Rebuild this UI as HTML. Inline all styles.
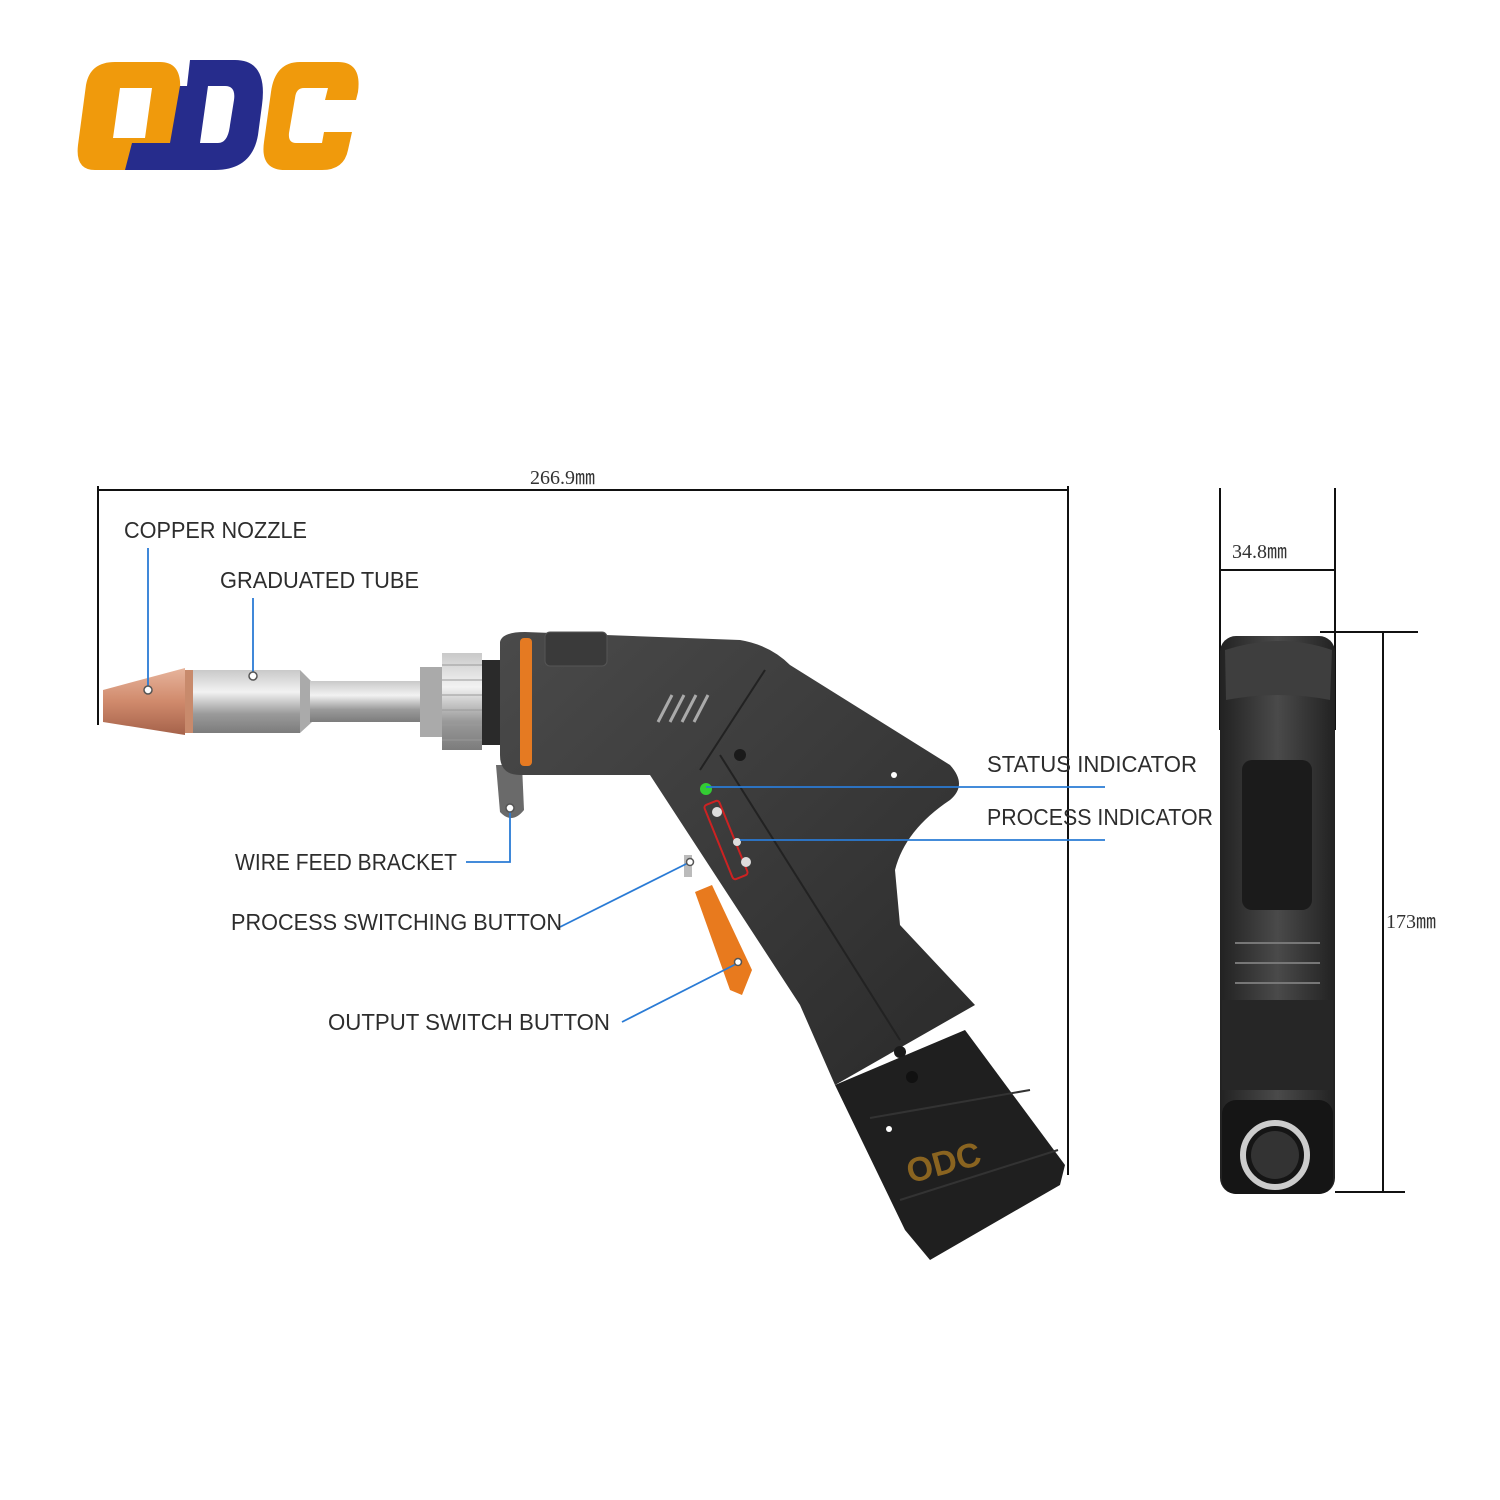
<!DOCTYPE html>
<html><head><meta charset="utf-8"><style>
html,body{margin:0;padding:0;background:#fff}
svg{display:block}
text{font-family:"Liberation Sans",sans-serif}
</style></head><body>
<svg width="1500" height="1500" viewBox="0 0 1500 1500" xmlns="http://www.w3.org/2000/svg">
<defs>
<linearGradient id="cu" x1="0" y1="0" x2="0" y2="1"><stop offset="0" stop-color="#e7b49c"/><stop offset=".5" stop-color="#d08a6c"/><stop offset="1" stop-color="#a5624a"/></linearGradient>
<linearGradient id="si" x1="0" y1="0" x2="0" y2="1"><stop offset="0" stop-color="#c9c9c9"/><stop offset=".35" stop-color="#f2f2f2"/><stop offset=".7" stop-color="#9a9a9a"/><stop offset="1" stop-color="#7c7c7c"/></linearGradient>
<linearGradient id="bd" x1="0" y1="0" x2="1" y2="1"><stop offset="0" stop-color="#4a4a4a"/><stop offset="1" stop-color="#2a2a2a"/></linearGradient>
<linearGradient id="sd" x1="0" y1="0" x2="1" y2="0"><stop offset="0" stop-color="#222"/><stop offset=".5" stop-color="#4a4a4a"/><stop offset="1" stop-color="#222"/></linearGradient>
</defs>
<!-- logo -->
<path d="M95,62 H160 Q182,62 180,90 L172,140 Q168,162 150,162 H128 L128,170 H95 Q75,170 78,145 L86,85 Q90,62 115,62 Z M120,88 L113,138 H145 L152,88 Z" fill="#f09a0c" fill-rule="evenodd"/>
<path d="M190,60 H235 Q268,60 262,105 L258,135 Q252,170 215,170 H125 L132,143 H170 L180,86 H187 Z M208,86 L200,143 H218 Q228,143 230,125 L234,100 Q236,86 225,86 Z" fill="#262c8c" fill-rule="evenodd"/>
<path d="M300,62 H338 Q362,62 358,92 L356,100 H325 L328,88 H304 Q296,88 295,98 L289,133 Q288,143 296,143 H322 L324,132 H352 L348,150 Q344,170 322,170 H285 Q260,170 264,142 L271,92 Q275,62 300,62 Z" fill="#f09a0c"/>
<!-- dimension lines -->
<g stroke="#111" stroke-width="2" fill="none">
<line x1="98" y1="490" x2="1068" y2="490"/>
<line x1="98" y1="486" x2="98" y2="725"/>
<line x1="1068" y1="486" x2="1068" y2="1175"/>
<line x1="1220" y1="488" x2="1220" y2="730"/>
<line x1="1335" y1="488" x2="1335" y2="730"/>
<line x1="1220" y1="570" x2="1335" y2="570"/>
<line x1="1320" y1="632" x2="1418" y2="632"/>
<line x1="1335" y1="1192" x2="1405" y2="1192"/>
<line x1="1383" y1="632" x2="1383" y2="1192"/>
</g>
<g font-size="20" fill="#333">
<text x="530" y="484" style="font-family:'Liberation Serif',serif">266.9㎜</text>
<text x="1232" y="558" style="font-family:'Liberation Serif',serif">34.8㎜</text>
<text x="1386" y="928" style="font-family:'Liberation Serif',serif">173㎜</text>
</g>
<!-- side view -->
<rect x="1220" y="636" width="115" height="558" rx="16" fill="url(#sd)"/>
<path d="M1225,650 Q1280,632 1332,650 L1330,700 Q1280,690 1226,700 Z" fill="#3e3e3e"/>
<rect x="1242" y="760" width="70" height="150" rx="10" fill="#1b1b1b"/>
<g stroke="#777" stroke-width="2"><line x1="1235" y1="943" x2="1320" y2="943"/><line x1="1235" y1="963" x2="1320" y2="963"/><line x1="1235" y1="983" x2="1320" y2="983"/></g>
<rect x="1222" y="1000" width="111" height="90" fill="#262626"/>
<rect x="1222" y="1100" width="111" height="94" rx="14" fill="#151515"/>
<circle cx="1275" cy="1155" r="32" fill="none" stroke="#ccc" stroke-width="6"/>
<circle cx="1275" cy="1155" r="24" fill="#333"/>
<!-- nozzle -->
<path d="M103,690 L185,668 L185,735 L103,722 Z" fill="url(#cu)"/>
<rect x="185" y="670" width="115" height="63" fill="url(#si)"/>
<rect x="185" y="670" width="8" height="63" fill="#c88a6c"/>
<path d="M300,670 L312,682 L312,722 L300,733 Z" fill="#aaa"/>
<rect x="310" y="681" width="112" height="41" fill="url(#si)"/>
<rect x="420" y="667" width="24" height="70" fill="#aaa"/>
<rect x="442" y="653" width="40" height="97" fill="url(#si)"/>
<g stroke="#999" stroke-width="1"><line x1="442" y1="665" x2="482" y2="665"/><line x1="442" y1="680" x2="482" y2="680"/><line x1="442" y1="695" x2="482" y2="695"/><line x1="442" y1="710" x2="482" y2="710"/><line x1="442" y1="725" x2="482" y2="725"/><line x1="442" y1="740" x2="482" y2="740"/></g>
<rect x="482" y="660" width="20" height="85" fill="#2a2a2a"/>
<!-- wire bracket -->
<path d="M496,765 L522,765 L524,810 Q512,825 500,812 Z" fill="#6a6a6a"/>
<!-- body -->
<path d="M500,642 Q502,632 525,632 L740,640 Q770,645 790,665 L950,765 Q968,785 950,800 Q905,830 895,870 L900,925 L975,1005 L835,1085 L800,1005 L650,775 L520,775 Q500,775 500,755 Z" fill="url(#bd)"/>
<rect x="520" y="638" width="12" height="128" rx="4" fill="#e57a22"/>
<rect x="545" y="632" width="62" height="34" rx="5" fill="#3a3a3a" stroke="#555"/>
<g stroke="#aaa" stroke-width="3"><line x1="658" y1="722" x2="672" y2="695"/><line x1="670" y1="722" x2="684" y2="695"/><line x1="682" y1="722" x2="696" y2="695"/><line x1="694" y1="722" x2="708" y2="695"/></g>
<line x1="765" y1="670" x2="700" y2="770" stroke="#222" stroke-width="2"/>
<line x1="720" y1="755" x2="900" y2="1040" stroke="#222" stroke-width="2"/>
<circle cx="740" cy="755" r="6" fill="#1a1a1a"/>
<circle cx="894" cy="775" r="3" fill="#fff"/>
<circle cx="900" cy="1052" r="6" fill="#1a1a1a"/>
<circle cx="706" cy="789" r="6" fill="#3c3"/>
<rect x="718" y="800" width="16" height="80" rx="3" transform="rotate(-22 726 840)" fill="none" stroke="#c22" stroke-width="2"/>
<circle cx="717" cy="812" r="5" fill="#ddd"/><circle cx="737" cy="842" r="4" fill="#ddd"/><circle cx="746" cy="862" r="5" fill="#ddd"/>
<path d="M695,892 L712,885 L752,970 L742,995 L730,990 Z" fill="#e87a1e"/>
<rect x="684" y="855" width="8" height="22" fill="#bbb"/>
<!-- battery -->
<path d="M835,1085 L965,1030 L1065,1165 L1060,1185 L930,1260 L905,1230 Z" fill="#1f1f1f"/>
<line x1="870" y1="1118" x2="1030" y2="1090" stroke="#333" stroke-width="2"/>
<line x1="900" y1="1200" x2="1058" y2="1150" stroke="#333" stroke-width="2"/>
<circle cx="912" cy="1077" r="6" fill="#111"/>
<circle cx="889" cy="1129" r="3" fill="#fff"/>
<text x="905" y="1175" font-size="34" font-weight="bold" fill="#8a6420" transform="rotate(-15 940 1160)">ODC</text>
<!-- leaders -->
<g stroke="#2a7bd5" stroke-width="1.8" fill="none">
<polyline points="148,548 148,690"/>
<polyline points="253,598 253,676"/>
<polyline points="466,862 510,862 510,810"/>
<line x1="560" y1="927" x2="690" y2="862"/>
<line x1="622" y1="1022" x2="738" y2="963"/>
<line x1="706" y1="787" x2="1105" y2="787"/>
<line x1="740" y1="840" x2="1105" y2="840"/>
</g>
<g fill="#fff" stroke="#555" stroke-width="1.5">
<circle cx="148" cy="690" r="4"/><circle cx="253" cy="676" r="4"/><circle cx="510" cy="808" r="4"/>
<circle cx="690" cy="862" r="3.5"/><circle cx="738" cy="962" r="3.5"/>
</g>
<g font-size="23" fill="#2d2d2d">
<text x="124" y="538" textLength="183" lengthAdjust="spacingAndGlyphs">COPPER NOZZLE</text>
<text x="220" y="588" textLength="199" lengthAdjust="spacingAndGlyphs">GRADUATED TUBE</text>
<text x="235" y="870" textLength="222" lengthAdjust="spacingAndGlyphs">WIRE FEED BRACKET</text>
<text x="231" y="930" textLength="331" lengthAdjust="spacingAndGlyphs">PROCESS SWITCHING BUTTON</text>
<text x="328" y="1030" textLength="282" lengthAdjust="spacingAndGlyphs">OUTPUT SWITCH BUTTON</text>
<text x="987" y="772" textLength="210" lengthAdjust="spacingAndGlyphs">STATUS INDICATOR</text>
<text x="987" y="825" textLength="226" lengthAdjust="spacingAndGlyphs">PROCESS INDICATOR</text>
</g>
</svg>
</body></html>
